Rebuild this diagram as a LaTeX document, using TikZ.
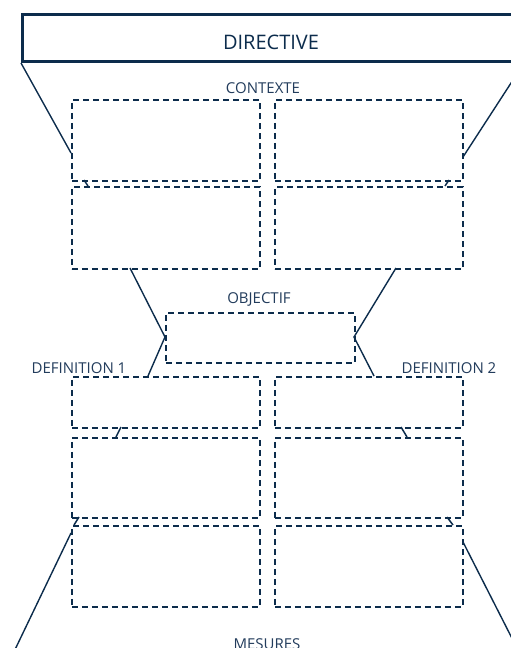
\documentclass[tikz,border=0pt]{standalone}
\usepackage{fontspec}
\setmainfont{Open Sans}
\definecolor{navy}{RGB}{12,44,76}
\definecolor{navytext}{RGB}{34,60,92}
\begin{document}
\begin{tikzpicture}[x=1pt,y=-1pt,
  cell/.style={draw=navy, line width=1.6pt, dash pattern=on 6pt off 4pt, inner sep=0pt, anchor=north west, minimum width=188pt},
  dirbox/.style={draw=navy, line width=3pt, inner sep=0pt, anchor=north west, minimum width=500pt, minimum height=47pt},
  funnel/.style={draw=navy, line width=1.4pt},
  tick/.style={draw=navy, line width=1.5pt},
  lbl/.style={text=navytext, font=\fontsize{15}{16}\selectfont, inner sep=0pt},
  title/.style={text=navy, font=\fontsize{20}{21}\selectfont, inner sep=0pt}]
\useasboundingbox (0,0) rectangle (511,648);
\clip (0,0) rectangle (511,648);
\fill[white] (0,0) rectangle (511,648);
% top box
\node[dirbox] (dir) at (21,13) {};
\node[title] (dirt) at (271,42) {DIRECTIVE};
% boxes
\node[cell, minimum height=81pt] (a1) at (71,99) {};
\node[cell, minimum height=81pt] (a2) at (274,99) {};
\node[cell, minimum height=82pt] (b1) at (71,186) {};
\node[cell, minimum height=82pt] (b2) at (274,186) {};
\node[cell, minimum width=189pt, minimum height=50pt] (obj) at (165,312) {};
\node[cell, minimum height=51pt] (c1) at (71,376) {};
\node[cell, minimum height=51pt] (c2) at (274,376) {};
\node[cell, minimum height=80pt] (d1) at (71,437) {};
\node[cell, minimum height=80pt] (d2) at (274,437) {};
\node[cell, minimum height=81pt] (e1) at (71,525) {};
\node[cell, minimum height=81pt] (e2) at (274,525) {};
% labels
\node[lbl] (lctx) at (263,88) {CONTEXTE};
\node[lbl] (lobj) at (259,299) {OBJECTIF};
\node[lbl] (ldef1) at (79,368) {DEFINITION 1};
\node[lbl] (ldef2) at (449,368) {DEFINITION 2};
\node[lbl, anchor=north] (lmes) at (267,638) {MESURES};
% funnel coordinates
\coordinate (p1) at (71,153);
\coordinate (p2) at (463,157);
\coordinate (p3) at (130,268);
\coordinate (p4) at (396,268);
\coordinate (p5) at (148,376);
\coordinate (p6) at (374,376);
\coordinate (p7) at (71,533);
\coordinate (p8) at (10,660);
\coordinate (p9) at (463,542);
\coordinate (p10) at (521,656);
\coordinate (q1) at (165,337);
\coordinate (q2) at (354,337);
\draw[funnel] (dir.south west) -- (p1);
\draw[funnel] (dir.south east) -- (p2);
\draw[funnel] (p3) -- (q1) -- (p5);
\draw[funnel] (p4) -- (q2) -- (p6);
\draw[funnel] (p7) -- (p8);
\draw[funnel] (p9) -- (p10);
% small ticks between rows
\coordinate (t1a) at (84,180); \coordinate (t1b) at (88,186);
\coordinate (t2a) at (449,180); \coordinate (t2b) at (445,186);
\coordinate (t3a) at (121,427); \coordinate (t3b) at (116,437);
\coordinate (t4a) at (401,427); \coordinate (t4b) at (407,437);
\coordinate (t5a) at (79,517); \coordinate (t5b) at (74,525);
\coordinate (t6a) at (447,517); \coordinate (t6b) at (453,525);
\draw[tick] (t1a) -- (t1b);
\draw[tick] (t2a) -- (t2b);
\draw[tick] (t3a) -- (t3b);
\draw[tick] (t4a) -- (t4b);
\draw[tick] (t5a) -- (t5b);
\draw[tick] (t6a) -- (t6b);
\end{tikzpicture}
\end{document}
